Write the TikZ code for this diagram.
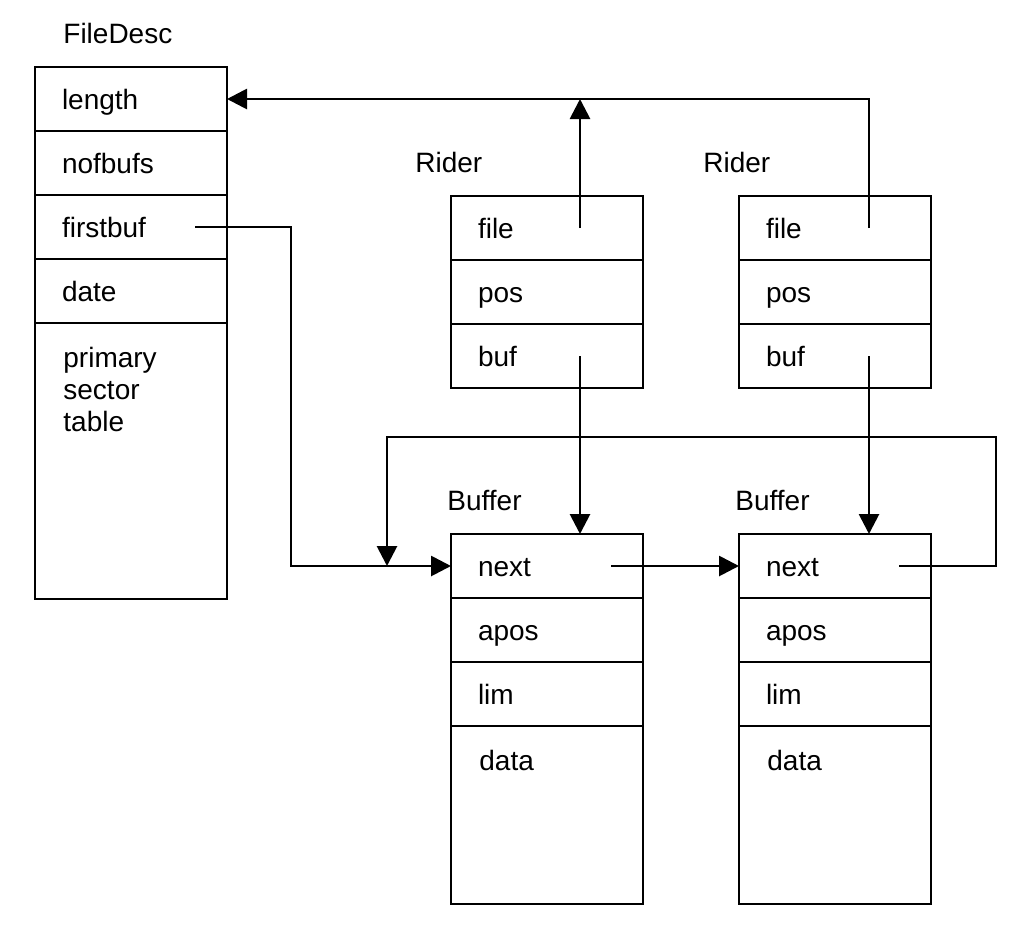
\documentclass[tikz,border=0pt]{standalone}
\usepackage{fontspec}
\setmainfont{Liberation Sans}
\usetikzlibrary{positioning,arrows.meta}

\begin{document}
\begin{tikzpicture}[x=0.5pt, y=-0.5pt, line width=1.4pt,
  field/.style={draw, rectangle, minimum width=96pt, minimum height=32pt,
    text width=69pt, text height=12pt, text depth=2pt,
    inner xsep=13.5pt, outer sep=0pt, align=left,
    font=\fontsize{14}{16}\selectfont},
  fieldtext/.style={text width=69pt, inner xsep=13.5pt, inner ysep=11.5pt,
    align=left, font=\fontsize{14}{16}\selectfont},
  lbl/.style={inner sep=0pt, font=\fontsize{14}{16}\selectfont},
  ptr/.style={-{Triangle[length=10pt,width=10pt]}}]
\useasboundingbox (0,0) rectangle (1028,944);
% FileDesc
\node[field] (length) at (131,99) {length};
\node[field, below=0pt of length] (nofbufs) {nofbufs};
\node[field, below=0pt of nofbufs] (firstbuf) {firstbuf};
\node[field, below=0pt of firstbuf] (date) {date};
\node[field, minimum height=138pt, below=0pt of date] (sectab) {};
\node[fieldtext, anchor=north west] (sectabtxt) at (sectab.north west) {primary\\sector\\table};
\node[lbl, anchor=west] (fdlbl) at ([xshift=13.5pt,yshift=17pt]length.north west) {FileDesc};
% Riders
\node[field] (r1file) at (547,228) {file};
\node[field, below=0pt of r1file] (r1pos) {pos};
\node[field, below=0pt of r1pos] (r1buf) {buf};
\node[lbl, anchor=west] (r1lbl) at ([xshift=-18.5pt,yshift=17pt]r1file.north west) {Rider};
\node[field] (r2file) at (835,228) {file};
\node[field, below=0pt of r2file] (r2pos) {pos};
\node[field, below=0pt of r2pos] (r2buf) {buf};
\node[lbl, anchor=west] (r2lbl) at ([xshift=-18.5pt,yshift=17pt]r2file.north west) {Rider};
% Buffers
\node[field] (b1next) at (547,566) {next};
\node[field, below=0pt of b1next] (b1apos) {apos};
\node[field, below=0pt of b1apos] (b1lim) {lim};
\node[field, minimum height=89pt, below=0pt of b1lim] (b1data) {};
\node[fieldtext, anchor=north west] (b1datatxt) at (b1data.north west) {data};
\node[lbl, anchor=west] (b1lbl) at ([xshift=-2.5pt,yshift=17pt]b1next.north west) {Buffer};
\node[field] (b2next) at (835,566) {next};
\node[field, below=0pt of b2next] (b2apos) {apos};
\node[field, below=0pt of b2apos] (b2lim) {lim};
\node[field, minimum height=89pt, below=0pt of b2lim] (b2data) {};
\node[fieldtext, anchor=north west] (b2datatxt) at (b2data.north west) {data};
\node[lbl, anchor=west] (b2lbl) at ([xshift=-2.5pt,yshift=17pt]b2next.north west) {Buffer};
% pointer ends
\coordinate (fbout) at ([xshift=-16pt]firstbuf.east);
\coordinate (r1fileout) at ([xshift=16.5pt]r1file.center);
\coordinate (r2fileout) at ([xshift=17pt]r2file.center);
\coordinate (r1bufout) at ([xshift=16.5pt]r1buf.center);
\coordinate (r2bufout) at ([xshift=17pt]r2buf.center);
\coordinate (b1nextout) at ([xshift=-16pt]b1next.east);
\coordinate (b2nextout) at ([xshift=-16pt]b2next.east);
\coordinate (b1in) at ([xshift=-32pt]b1next.west);
% pointers
\draw[ptr] (r2fileout) |- (length.east);
\draw[ptr] (r1fileout) -- (r1fileout |- length.east);
\draw[ptr] (fbout) -- ++(48pt,0) |- (b1next.west);
\draw[ptr] (r1bufout) -- (r1bufout |- b1next.north);
\draw[ptr] (r2bufout) -- (r2bufout |- b2next.north);
\draw[ptr] (b1nextout) -- (b2next.west);
\draw[ptr] (b2nextout) -- ++(48.5pt,0) -- ++(0,64.5pt) -| (b1in);
\end{tikzpicture}
\end{document}
